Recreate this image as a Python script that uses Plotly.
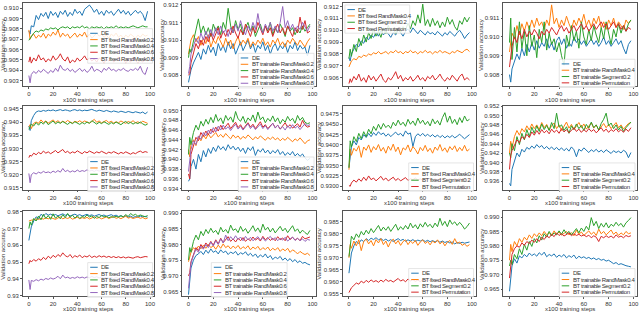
import plotly.graph_objects as go

W, H = 640, 314
STEPS = [0, 1, 2, 4, 6, 8, 10, 12, 14, 16, 18, 20, 22, 24, 26, 28, 30, 32, 34, 36, 38, 40,
         42, 44, 46, 48, 50, 52, 54, 56, 58, 60, 62, 64, 66, 68, 70, 72, 74, 76, 78, 80,
         82, 84, 86, 88, 90, 92, 94, 96, 98]
X_TICKS = [0, 20, 40, 60, 80, 100]

# ---------------- row 1 ----------------
r1c1_de = [0.9078, 0.9075, 0.9083, 0.9082, 0.9093, 0.9089, 0.9095, 0.9092, 0.9096, 0.9090, 0.9097, 0.9093, 0.9096, 0.9091, 0.9097, 0.9094, 0.9098, 0.9092, 0.9096, 0.9093, 0.9099, 0.9095, 0.9097, 0.9093, 0.9099, 0.9101, 0.9103, 0.9100, 0.9096, 0.9099, 0.9094, 0.9097, 0.9093, 0.9098, 0.9095, 0.9097, 0.9093, 0.9096, 0.9099, 0.9095, 0.9098, 0.9094, 0.9097, 0.9093, 0.9096, 0.9098, 0.9095, 0.9097, 0.9094, 0.9088, 0.9097]
r1c1_rm02 = [0.9079, 0.9070, 0.9073, 0.9075, 0.9071, 0.9074, 0.9072, 0.9076, 0.9071, 0.9075, 0.9073, 0.9077, 0.9074, 0.9079, 0.9072, 0.9076, 0.9073, 0.9075, 0.9071, 0.9074, 0.9076, 0.9072, 0.9075, 0.9073, 0.9077, 0.9072, 0.9075, 0.9071, 0.9074, 0.9076, 0.9073, 0.9075, 0.9072, 0.9074, 0.9071, 0.9075, 0.9073, 0.9076, 0.9072, 0.9074, 0.9071, 0.9074, 0.9072, 0.9075, 0.9073, 0.9071, 0.9074, 0.9072, 0.9075, 0.9073, 0.9074]
r1c1_rm04 = [0.9069, 0.9071, 0.9073, 0.9076, 0.9078, 0.9077, 0.9079, 0.9078, 0.9080, 0.9079, 0.9081, 0.9080, 0.9081, 0.9079, 0.9081, 0.9082, 0.9081, 0.9082, 0.9080, 0.9082, 0.9081, 0.9082, 0.9081, 0.9083, 0.9081, 0.9082, 0.9080, 0.9082, 0.9081, 0.9082, 0.9081, 0.9082, 0.9080, 0.9082, 0.9081, 0.9082, 0.9081, 0.9083, 0.9081, 0.9082, 0.9081, 0.9082, 0.9081, 0.9082, 0.9083, 0.9082, 0.9081, 0.9082, 0.9083, 0.9082, 0.9082]
r1c1_rm06 = [0.9048, 0.9053, 0.9047, 0.9052, 0.9049, 0.9055, 0.9050, 0.9052, 0.9048, 0.9051, 0.9049, 0.9054, 0.9050, 0.9052, 0.9056, 0.9051, 0.9049, 0.9053, 0.9047, 0.9050, 0.9048, 0.9052, 0.9049, 0.9051, 0.9054, 0.9050, 0.9052, 0.9049, 0.9051, 0.9048, 0.9052, 0.9050, 0.9047, 0.9051, 0.9049, 0.9052, 0.9048, 0.9050, 0.9053, 0.9049, 0.9051, 0.9047, 0.9050, 0.9048, 0.9052, 0.9049, 0.9047, 0.9050, 0.9048, 0.9051, 0.9049]
r1c1_rm08 = [0.9035, 0.9028, 0.9036, 0.9039, 0.9037, 0.9040, 0.9038, 0.9041, 0.9039, 0.9037, 0.9040, 0.9038, 0.9042, 0.9039, 0.9045, 0.9041, 0.9040, 0.9042, 0.9039, 0.9041, 0.9038, 0.9040, 0.9042, 0.9039, 0.9041, 0.9038, 0.9040, 0.9044, 0.9039, 0.9041, 0.9040, 0.9038, 0.9042, 0.9040, 0.9043, 0.9040, 0.9041, 0.9039, 0.9041, 0.9040, 0.9042, 0.9040, 0.9039, 0.9041, 0.9040, 0.9042, 0.9040, 0.9044, 0.9038, 0.9036, 0.9043]

r1c2_de = [0.9076, 0.9079, 0.9083, 0.9087, 0.9090, 0.9093, 0.9089, 0.9095, 0.9092, 0.9097, 0.9093, 0.9096, 0.9091, 0.9098, 0.9094, 0.9097, 0.9093, 0.9099, 0.9095, 0.9098, 0.9092, 0.9096, 0.9099, 0.9094, 0.9097, 0.9100, 0.9095, 0.9098, 0.9093, 0.9097, 0.9095, 0.9099, 0.9094, 0.9097, 0.9092, 0.9096, 0.9098, 0.9094, 0.9097, 0.9095, 0.9098, 0.9093, 0.9097, 0.9095, 0.9099, 0.9094, 0.9097, 0.9095, 0.9096, 0.9091, 0.9097]
r1c2_rm02 = [0.9092, 0.9096, 0.9100, 0.9103, 0.9099, 0.9102, 0.9097, 0.9101, 0.9098, 0.9103, 0.9096, 0.9100, 0.9098, 0.9102, 0.9099, 0.9096, 0.9101, 0.9097, 0.9100, 0.9095, 0.9099, 0.9102, 0.9097, 0.9100, 0.9098, 0.9101, 0.9096, 0.9099, 0.9097, 0.9100, 0.9098, 0.9101, 0.9097, 0.9099, 0.9096, 0.9100, 0.9098, 0.9101, 0.9097, 0.9099, 0.9096, 0.9100, 0.9098, 0.9101, 0.9099, 0.9097, 0.9100, 0.9098, 0.9096, 0.9099, 0.9101]
r1c2_rm04 = [0.9090, 0.9095, 0.9093, 0.9100, 0.9106, 0.9112, 0.9104, 0.9108, 0.9103, 0.9107, 0.9102, 0.9109, 0.9105, 0.9108, 0.9103, 0.9110, 0.9106, 0.9118, 0.9108, 0.9104, 0.9111, 0.9106, 0.9109, 0.9103, 0.9107, 0.9110, 0.9105, 0.9108, 0.9102, 0.9106, 0.9109, 0.9104, 0.9108, 0.9105, 0.9110, 0.9103, 0.9107, 0.9104, 0.9109, 0.9106, 0.9102, 0.9108, 0.9105, 0.9107, 0.9103, 0.9106, 0.9104, 0.9108, 0.9105, 0.9107, 0.9109]
r1c2_rm06 = [0.9080, 0.9081, 0.9087, 0.9093, 0.9098, 0.9095, 0.9100, 0.9097, 0.9102, 0.9099, 0.9104, 0.9100, 0.9103, 0.9107, 0.9101, 0.9105, 0.9102, 0.9106, 0.9103, 0.9108, 0.9104, 0.9101, 0.9106, 0.9103, 0.9109, 0.9105, 0.9102, 0.9107, 0.9104, 0.9110, 0.9106, 0.9103, 0.9108, 0.9104, 0.9107, 0.9102, 0.9106, 0.9109, 0.9104, 0.9107, 0.9103, 0.9108, 0.9105, 0.9102, 0.9107, 0.9104, 0.9113, 0.9106, 0.9111, 0.9104, 0.9105]
r1c2_rm08 = [0.9081, 0.9085, 0.9092, 0.9097, 0.9101, 0.9098, 0.9104, 0.9100, 0.9105, 0.9101, 0.9106, 0.9102, 0.9107, 0.9103, 0.9108, 0.9104, 0.9106, 0.9102, 0.9107, 0.9104, 0.9109, 0.9105, 0.9111, 0.9106, 0.9103, 0.9108, 0.9105, 0.9110, 0.9106, 0.9115, 0.9107, 0.9104, 0.9109, 0.9106, 0.9110, 0.9105, 0.9108, 0.9104, 0.9110, 0.9119, 0.9107, 0.9111, 0.9106, 0.9109, 0.9105, 0.9108, 0.9106, 0.9110, 0.9107, 0.9105, 0.9108]

r1c3_de = [0.9077, 0.9074, 0.9080, 0.9084, 0.9088, 0.9086, 0.9091, 0.9089, 0.9094, 0.9092, 0.9096, 0.9094, 0.9098, 0.9095, 0.9100, 0.9096, 0.9099, 0.9097, 0.9094, 0.9098, 0.9096, 0.9100, 0.9098, 0.9095, 0.9099, 0.9101, 0.9098, 0.9102, 0.9099, 0.9097, 0.9100, 0.9098, 0.9096, 0.9099, 0.9097, 0.9098, 0.9096, 0.9099, 0.9097, 0.9095, 0.9098, 0.9096, 0.9099, 0.9097, 0.9095, 0.9098, 0.9100, 0.9097, 0.9093, 0.9096, 0.9098]
r1c3_rm04 = [0.9069, 0.9072, 0.9074, 0.9076, 0.9075, 0.9078, 0.9077, 0.9079, 0.9078, 0.9080, 0.9079, 0.9081, 0.9080, 0.9082, 0.9080, 0.9081, 0.9082, 0.9080, 0.9082, 0.9081, 0.9083, 0.9081, 0.9082, 0.9080, 0.9082, 0.9081, 0.9083, 0.9081, 0.9082, 0.9080, 0.9082, 0.9081, 0.9083, 0.9081, 0.9082, 0.9080, 0.9082, 0.9081, 0.9083, 0.9081, 0.9082, 0.9081, 0.9080, 0.9082, 0.9081, 0.9083, 0.9082, 0.9081, 0.9083, 0.9084, 0.9082]
r1c3_seg02 = [0.9076, 0.9084, 0.9078, 0.9088, 0.9082, 0.9093, 0.9087, 0.9096, 0.9090, 0.9098, 0.9093, 0.9101, 0.9095, 0.9099, 0.9094, 0.9102, 0.9097, 0.9104, 0.9099, 0.9102, 0.9097, 0.9101, 0.9098, 0.9103, 0.9100, 0.9106, 0.9101, 0.9108, 0.9104, 0.9113, 0.9106, 0.9122, 0.9104, 0.9109, 0.9103, 0.9110, 0.9104, 0.9108, 0.9102, 0.9107, 0.9103, 0.9111, 0.9105, 0.9109, 0.9103, 0.9100, 0.9108, 0.9105, 0.9111, 0.9107, 0.9111]
r1c3_perm = [0.9055, 0.9059, 0.9056, 0.9061, 0.9058, 0.9063, 0.9057, 0.9060, 0.9056, 0.9062, 0.9058, 0.9061, 0.9057, 0.9060, 0.9063, 0.9058, 0.9056, 0.9060, 0.9058, 0.9061, 0.9065, 0.9059, 0.9062, 0.9057, 0.9060, 0.9058, 0.9061, 0.9057, 0.9059, 0.9062, 0.9058, 0.9060, 0.9057, 0.9061, 0.9059, 0.9062, 0.9058, 0.9060, 0.9063, 0.9059, 0.9057, 0.9060, 0.9058, 0.9062, 0.9059, 0.9057, 0.9061, 0.9063, 0.9058, 0.9060, 0.9058]

r1c4_de = [0.9080, 0.9076, 0.9083, 0.9087, 0.9091, 0.9088, 0.9094, 0.9090, 0.9096, 0.9092, 0.9097, 0.9093, 0.9098, 0.9094, 0.9097, 0.9095, 0.9099, 0.9094, 0.9097, 0.9093, 0.9098, 0.9100, 0.9096, 0.9099, 0.9094, 0.9097, 0.9095, 0.9100, 0.9097, 0.9099, 0.9096, 0.9098, 0.9095, 0.9097, 0.9099, 0.9096, 0.9098, 0.9095, 0.9097, 0.9100, 0.9096, 0.9098, 0.9095, 0.9097, 0.9099, 0.9096, 0.9098, 0.9094, 0.9091, 0.9096, 0.9098]
r1c4_rm04 = [0.9092, 0.9097, 0.9102, 0.9099, 0.9106, 0.9101, 0.9107, 0.9103, 0.9108, 0.9104, 0.9109, 0.9105, 0.9110, 0.9106, 0.9108, 0.9104, 0.9109, 0.9106, 0.9117, 0.9107, 0.9110, 0.9105, 0.9109, 0.9106, 0.9111, 0.9107, 0.9104, 0.9109, 0.9106, 0.9110, 0.9107, 0.9112, 0.9106, 0.9109, 0.9105, 0.9110, 0.9107, 0.9111, 0.9105, 0.9108, 0.9104, 0.9109, 0.9106, 0.9110, 0.9105, 0.9108, 0.9106, 0.9104, 0.9109, 0.9107, 0.9109]
r1c4_seg02 = [0.9097, 0.9110, 0.9088, 0.9105, 0.9092, 0.9108, 0.9094, 0.9103, 0.9090, 0.9106, 0.9095, 0.9101, 0.9089, 0.9104, 0.9097, 0.9108, 0.9093, 0.9102, 0.9096, 0.9099, 0.9092, 0.9097, 0.9090, 0.9085, 0.9101, 0.9095, 0.9106, 0.9098, 0.9103, 0.9094, 0.9108, 0.9100, 0.9096, 0.9104, 0.9098, 0.9106, 0.9101, 0.9097, 0.9105, 0.9099, 0.9108, 0.9102, 0.9096, 0.9104, 0.9100, 0.9107, 0.9102, 0.9106, 0.9103, 0.9107, 0.9109]
r1c4_perm = [0.9084, 0.9090, 0.9095, 0.9100, 0.9097, 0.9103, 0.9099, 0.9104, 0.9100, 0.9103, 0.9101, 0.9104, 0.9102, 0.9099, 0.9103, 0.9101, 0.9104, 0.9102, 0.9105, 0.9103, 0.9101, 0.9104, 0.9106, 0.9103, 0.9105, 0.9102, 0.9104, 0.9106, 0.9103, 0.9105, 0.9107, 0.9104, 0.9106, 0.9103, 0.9105, 0.9107, 0.9104, 0.9106, 0.9108, 0.9105, 0.9107, 0.9104, 0.9106, 0.9108, 0.9105, 0.9107, 0.9104, 0.9106, 0.9103, 0.9105, 0.9104]

# ---------------- row 2 ----------------
r2c1_de = [0.9385, 0.9368, 0.9405, 0.9425, 0.9438, 0.9442, 0.9440, 0.9444, 0.9441, 0.9445, 0.9443, 0.9446, 0.9442, 0.9445, 0.9447, 0.9443, 0.9446, 0.9444, 0.9441, 0.9445, 0.9447, 0.9443, 0.9446, 0.9442, 0.9445, 0.9443, 0.9446, 0.9448, 0.9444, 0.9441, 0.9445, 0.9443, 0.9440, 0.9444, 0.9442, 0.9438, 0.9442, 0.9440, 0.9437, 0.9441, 0.9439, 0.9436, 0.9440, 0.9438, 0.9435, 0.9439, 0.9437, 0.9434, 0.9438, 0.9431, 0.9438]
r2c1_rm02 = [0.9382, 0.9390, 0.9375, 0.9395, 0.9400, 0.9395, 0.9408, 0.9398, 0.9404, 0.9396, 0.9402, 0.9408, 0.9399, 0.9405, 0.9397, 0.9403, 0.9398, 0.9406, 0.9400, 0.9396, 0.9403, 0.9399, 0.9405, 0.9398, 0.9404, 0.9400, 0.9396, 0.9402, 0.9410, 0.9399, 0.9404, 0.9397, 0.9401, 0.9406, 0.9398, 0.9403, 0.9396, 0.9401, 0.9397, 0.9404, 0.9399, 0.9395, 0.9402, 0.9398, 0.9405, 0.9397, 0.9401, 0.9396, 0.9403, 0.9398, 0.9395]
r2c1_rm04 = [0.9372, 0.9380, 0.9392, 0.9385, 0.9398, 0.9388, 0.9400, 0.9392, 0.9403, 0.9390, 0.9398, 0.9404, 0.9393, 0.9400, 0.9395, 0.9402, 0.9396, 0.9391, 0.9399, 0.9394, 0.9401, 0.9396, 0.9391, 0.9398, 0.9393, 0.9400, 0.9395, 0.9405, 0.9397, 0.9392, 0.9399, 0.9394, 0.9401, 0.9396, 0.9391, 0.9398, 0.9393, 0.9400, 0.9395, 0.9390, 0.9397, 0.9402, 0.9394, 0.9399, 0.9392, 0.9398, 0.9394, 0.9400, 0.9393, 0.9388, 0.9392]
r2c1_rm06 = [0.9265, 0.9275, 0.9270, 0.9282, 0.9276, 0.9285, 0.9279, 0.9290, 0.9282, 0.9287, 0.9280, 0.9286, 0.9292, 0.9283, 0.9288, 0.9296, 0.9284, 0.9289, 0.9281, 0.9287, 0.9283, 0.9291, 0.9285, 0.9280, 0.9288, 0.9283, 0.9290, 0.9285, 0.9281, 0.9287, 0.9283, 0.9289, 0.9284, 0.9280, 0.9286, 0.9282, 0.9288, 0.9283, 0.9279, 0.9285, 0.9281, 0.9287, 0.9282, 0.9278, 0.9284, 0.9280, 0.9286, 0.9290, 0.9284, 0.9288, 0.9285]
r2c1_rm08 = [0.9205, 0.9170, 0.9200, 0.9208, 0.9203, 0.9210, 0.9206, 0.9213, 0.9208, 0.9211, 0.9207, 0.9214, 0.9209, 0.9216, 0.9210, 0.9224, 0.9212, 0.9217, 0.9210, 0.9215, 0.9211, 0.9218, 0.9212, 0.9216, 0.9213, 0.9219, 0.9214, 0.9217, 0.9213, 0.9218, 0.9214, 0.9217, 0.9213, 0.9216, 0.9212, 0.9218, 0.9214, 0.9217, 0.9213, 0.9216, 0.9212, 0.9217, 0.9214, 0.9218, 0.9213, 0.9216, 0.9212, 0.9217, 0.9214, 0.9216, 0.9213]

r2c2_de = [0.9355, 0.9360, 0.9385, 0.9400, 0.9380, 0.9410, 0.9395, 0.9418, 0.9405, 0.9422, 0.9412, 0.9425, 0.9416, 0.9428, 0.9420, 0.9426, 0.9418, 0.9430, 0.9421, 0.9427, 0.9419, 0.9425, 0.9416, 0.9423, 0.9412, 0.9424, 0.9418, 0.9426, 0.9408, 0.9420, 0.9415, 0.9422, 0.9413, 0.9419, 0.9411, 0.9418, 0.9413, 0.9420, 0.9410, 0.9416, 0.9408, 0.9414, 0.9409, 0.9416, 0.9407, 0.9412, 0.9406, 0.9411, 0.9403, 0.9398, 0.9402]
r2c2_rm02 = [0.9420, 0.9405, 0.9432, 0.9440, 0.9428, 0.9446, 0.9438, 0.9450, 0.9442, 0.9452, 0.9444, 0.9449, 0.9455, 0.9446, 0.9451, 0.9445, 0.9453, 0.9447, 0.9442, 0.9450, 0.9444, 0.9448, 0.9441, 0.9447, 0.9443, 0.9450, 0.9444, 0.9440, 0.9446, 0.9442, 0.9448, 0.9443, 0.9439, 0.9445, 0.9441, 0.9446, 0.9440, 0.9444, 0.9438, 0.9443, 0.9439, 0.9445, 0.9440, 0.9436, 0.9442, 0.9438, 0.9444, 0.9437, 0.9432, 0.9438, 0.9440]
r2c2_rm04 = [0.9410, 0.9445, 0.9430, 0.9455, 0.9470, 0.9460, 0.9478, 0.9468, 0.9482, 0.9472, 0.9486, 0.9475, 0.9492, 0.9478, 0.9485, 0.9473, 0.9490, 0.9480, 0.9487, 0.9476, 0.9498, 0.9483, 0.9478, 0.9488, 0.9474, 0.9485, 0.9479, 0.9491, 0.9476, 0.9497, 0.9481, 0.9487, 0.9475, 0.9484, 0.9478, 0.9489, 0.9477, 0.9485, 0.9473, 0.9482, 0.9476, 0.9488, 0.9479, 0.9484, 0.9474, 0.9490, 0.9480, 0.9486, 0.9476, 0.9473, 0.9475]
r2c2_rm06 = [0.9370, 0.9360, 0.9410, 0.9430, 0.9445, 0.9438, 0.9455, 0.9447, 0.9458, 0.9450, 0.9462, 0.9455, 0.9466, 0.9458, 0.9470, 0.9461, 0.9467, 0.9474, 0.9463, 0.9469, 0.9476, 0.9465, 0.9471, 0.9462, 0.9468, 0.9475, 0.9466, 0.9472, 0.9463, 0.9469, 0.9477, 0.9466, 0.9471, 0.9463, 0.9469, 0.9474, 0.9465, 0.9470, 0.9462, 0.9468, 0.9475, 0.9466, 0.9471, 0.9464, 0.9469, 0.9473, 0.9466, 0.9480, 0.9470, 0.9466, 0.9468]
r2c2_rm08 = [0.9375, 0.9395, 0.9420, 0.9438, 0.9430, 0.9448, 0.9441, 0.9455, 0.9448, 0.9460, 0.9452, 0.9465, 0.9456, 0.9468, 0.9460, 0.9470, 0.9462, 0.9467, 0.9459, 0.9466, 0.9472, 0.9462, 0.9468, 0.9460, 0.9466, 0.9473, 0.9463, 0.9469, 0.9461, 0.9467, 0.9472, 0.9463, 0.9469, 0.9461, 0.9468, 0.9474, 0.9464, 0.9470, 0.9462, 0.9467, 0.9460, 0.9469, 0.9463, 0.9471, 0.9464, 0.9468, 0.9461, 0.9467, 0.9473, 0.9469, 0.9471]

r2c3_de = [0.9345, 0.9365, 0.9395, 0.9410, 0.9400, 0.9418, 0.9412, 0.9425, 0.9418, 0.9428, 0.9420, 0.9430, 0.9423, 0.9432, 0.9425, 0.9429, 0.9421, 0.9427, 0.9420, 0.9426, 0.9431, 0.9424, 0.9428, 0.9421, 0.9434, 0.9426, 0.9429, 0.9396, 0.9420, 0.9427, 0.9422, 0.9428, 0.9421, 0.9426, 0.9420, 0.9425, 0.9419, 0.9424, 0.9418, 0.9423, 0.9417, 0.9422, 0.9418, 0.9423, 0.9417, 0.9421, 0.9426, 0.9420, 0.9415, 0.9420, 0.9425]
r2c3_rm04 = [0.9340, 0.9390, 0.9375, 0.9392, 0.9385, 0.9398, 0.9370, 0.9395, 0.9387, 0.9400, 0.9382, 0.9396, 0.9388, 0.9401, 0.9385, 0.9394, 0.9380, 0.9397, 0.9387, 0.9402, 0.9384, 0.9395, 0.9376, 0.9393, 0.9388, 0.9400, 0.9383, 0.9396, 0.9389, 0.9378, 0.9394, 0.9386, 0.9399, 0.9384, 0.9392, 0.9380, 0.9395, 0.9387, 0.9401, 0.9385, 0.9393, 0.9382, 0.9396, 0.9388, 0.9398, 0.9384, 0.9394, 0.9386, 0.9399, 0.9385, 0.9390]
r2c3_seg02 = [0.9345, 0.9410, 0.9395, 0.9420, 0.9408, 0.9428, 0.9415, 0.9432, 0.9420, 0.9438, 0.9427, 0.9445, 0.9435, 0.9450, 0.9438, 0.9452, 0.9442, 0.9448, 0.9440, 0.9455, 0.9446, 0.9460, 0.9448, 0.9455, 0.9445, 0.9462, 0.9450, 0.9458, 0.9447, 0.9465, 0.9452, 0.9460, 0.9449, 0.9457, 0.9446, 0.9463, 0.9451, 0.9459, 0.9448, 0.9466, 0.9478, 0.9455, 0.9470, 0.9452, 0.9462, 0.9449, 0.9466, 0.9454, 0.9470, 0.9458, 0.9462]
r2c3_perm = [0.9302, 0.9300, 0.9308, 0.9315, 0.9310, 0.9318, 0.9312, 0.9322, 0.9314, 0.9325, 0.9316, 0.9320, 0.9313, 0.9319, 0.9324, 0.9315, 0.9320, 0.9313, 0.9318, 0.9322, 0.9314, 0.9319, 0.9313, 0.9317, 0.9321, 0.9314, 0.9318, 0.9316, 0.9320, 0.9315, 0.9318, 0.9314, 0.9319, 0.9316, 0.9320, 0.9315, 0.9318, 0.9314, 0.9319, 0.9316, 0.9320, 0.9315, 0.9318, 0.9314, 0.9319, 0.9316, 0.9320, 0.9315, 0.9317, 0.9314, 0.9318]

r2c4_de = [0.9355, 0.9350, 0.9385, 0.9405, 0.9420, 0.9412, 0.9428, 0.9422, 0.9432, 0.9428, 0.9435, 0.9430, 0.9438, 0.9432, 0.9436, 0.9429, 0.9434, 0.9428, 0.9433, 0.9427, 0.9432, 0.9426, 0.9431, 0.9425, 0.9430, 0.9424, 0.9433, 0.9427, 0.9412, 0.9428, 0.9424, 0.9431, 0.9426, 0.9421, 0.9427, 0.9423, 0.9428, 0.9422, 0.9426, 0.9421, 0.9427, 0.9423, 0.9419, 0.9425, 0.9421, 0.9424, 0.9420, 0.9426, 0.9422, 0.9410, 0.9421]
r2c4_rm04 = [0.9420, 0.9445, 0.9430, 0.9455, 0.9468, 0.9458, 0.9472, 0.9465, 0.9478, 0.9469, 0.9482, 0.9472, 0.9480, 0.9470, 0.9485, 0.9474, 0.9481, 0.9469, 0.9478, 0.9484, 0.9472, 0.9480, 0.9468, 0.9477, 0.9486, 0.9473, 0.9481, 0.9470, 0.9479, 0.9485, 0.9474, 0.9482, 0.9471, 0.9478, 0.9484, 0.9473, 0.9480, 0.9469, 0.9477, 0.9483, 0.9474, 0.9481, 0.9472, 0.9478, 0.9485, 0.9474, 0.9480, 0.9471, 0.9478, 0.9483, 0.9485]
r2c4_seg02 = [0.9420, 0.9410, 0.9440, 0.9425, 0.9455, 0.9438, 0.9462, 0.9448, 0.9470, 0.9455, 0.9475, 0.9462, 0.9478, 0.9466, 0.9482, 0.9470, 0.9479, 0.9468, 0.9485, 0.9472, 0.9505, 0.9475, 0.9480, 0.9468, 0.9476, 0.9462, 0.9478, 0.9470, 0.9482, 0.9472, 0.9479, 0.9468, 0.9481, 0.9473, 0.9486, 0.9474, 0.9480, 0.9469, 0.9483, 0.9492, 0.9505, 0.9478, 0.9484, 0.9472, 0.9480, 0.9469, 0.9477, 0.9466, 0.9474, 0.9480, 0.9486]
r2c4_perm = [0.9385, 0.9415, 0.9425, 0.9438, 0.9448, 0.9442, 0.9455, 0.9450, 0.9460, 0.9453, 0.9465, 0.9458, 0.9468, 0.9460, 0.9470, 0.9463, 0.9468, 0.9461, 0.9471, 0.9464, 0.9469, 0.9462, 0.9472, 0.9465, 0.9470, 0.9463, 0.9469, 0.9474, 0.9466, 0.9471, 0.9464, 0.9470, 0.9465, 0.9472, 0.9466, 0.9470, 0.9463, 0.9469, 0.9474, 0.9466, 0.9471, 0.9464, 0.9470, 0.9466, 0.9472, 0.9465, 0.9470, 0.9464, 0.9471, 0.9466, 0.9474]

# ---------------- row 3 ----------------
r3c1_de = [0.9629, 0.9660, 0.9710, 0.9745, 0.9770, 0.9760, 0.9785, 0.9775, 0.9790, 0.9780, 0.9786, 0.9778, 0.9784, 0.9776, 0.9782, 0.9788, 0.9779, 0.9784, 0.9775, 0.9781, 0.9786, 0.9778, 0.9783, 0.9775, 0.9780, 0.9785, 0.9777, 0.9782, 0.9774, 0.9779, 0.9784, 0.9776, 0.9781, 0.9773, 0.9778, 0.9783, 0.9775, 0.9780, 0.9772, 0.9777, 0.9770, 0.9776, 0.9768, 0.9774, 0.9766, 0.9772, 0.9768, 0.9775, 0.9770, 0.9773, 0.9768]
r3c1_rm02 = [0.9745, 0.9748, 0.9750, 0.9752, 0.9758, 0.9754, 0.9762, 0.9756, 0.9764, 0.9758, 0.9766, 0.9760, 0.9755, 0.9763, 0.9770, 0.9758, 0.9765, 0.9760, 0.9767, 0.9756, 0.9763, 0.9768, 0.9759, 0.9765, 0.9760, 0.9767, 0.9757, 0.9764, 0.9770, 0.9761, 0.9766, 0.9758, 0.9764, 0.9769, 0.9760, 0.9765, 0.9772, 0.9761, 0.9766, 0.9759, 0.9768, 0.9774, 0.9762, 0.9767, 0.9760, 0.9765, 0.9769, 0.9761, 0.9766, 0.9758, 0.9762]
r3c1_rm04 = [0.9700, 0.9740, 0.9720, 0.9760, 0.9745, 0.9775, 0.9752, 0.9785, 0.9760, 0.9778, 0.9755, 0.9788, 0.9762, 0.9775, 0.9758, 0.9783, 0.9765, 0.9790, 0.9768, 0.9780, 0.9762, 0.9776, 0.9760, 0.9772, 0.9767, 0.9781, 0.9769, 0.9775, 0.9761, 0.9772, 0.9766, 0.9778, 0.9769, 0.9774, 0.9764, 0.9771, 0.9767, 0.9773, 0.9768, 0.9776, 0.9770, 0.9783, 0.9772, 0.9790, 0.9778, 0.9785, 0.9774, 0.9781, 0.9776, 0.9770, 0.9778]
r3c1_rm06 = [0.9490, 0.9510, 0.9500, 0.9515, 0.9505, 0.9520, 0.9510, 0.9528, 0.9515, 0.9535, 0.9522, 0.9540, 0.9528, 0.9545, 0.9533, 0.9555, 0.9538, 0.9530, 0.9545, 0.9525, 0.9538, 0.9530, 0.9542, 0.9526, 0.9536, 0.9530, 0.9540, 0.9527, 0.9535, 0.9528, 0.9538, 0.9530, 0.9536, 0.9528, 0.9534, 0.9527, 0.9533, 0.9526, 0.9532, 0.9525, 0.9531, 0.9524, 0.9530, 0.9527, 0.9523, 0.9529, 0.9532, 0.9526, 0.9530, 0.9533, 0.9531]
r3c1_rm08 = [0.9393, 0.9336, 0.9390, 0.9385, 0.9395, 0.9388, 0.9398, 0.9392, 0.9402, 0.9396, 0.9405, 0.9398, 0.9404, 0.9415, 0.9400, 0.9422, 0.9405, 0.9410, 0.9402, 0.9408, 0.9403, 0.9412, 0.9405, 0.9410, 0.9404, 0.9411, 0.9406, 0.9414, 0.9407, 0.9412, 0.9405, 0.9410, 0.9404, 0.9409, 0.9403, 0.9408, 0.9402, 0.9407, 0.9403, 0.9409, 0.9404, 0.9408, 0.9402, 0.9407, 0.9403, 0.9409, 0.9404, 0.9408, 0.9402, 0.9406, 0.9403]

r3c2_de = [0.9640, 0.9680, 0.9725, 0.9750, 0.9765, 0.9770, 0.9778, 0.9768, 0.9782, 0.9772, 0.9786, 0.9775, 0.9780, 0.9770, 0.9783, 0.9774, 0.9779, 0.9768, 0.9776, 0.9771, 0.9778, 0.9766, 0.9774, 0.9769, 0.9777, 0.9765, 0.9772, 0.9762, 0.9770, 0.9758, 0.9767, 0.9760, 0.9770, 0.9757, 0.9765, 0.9752, 0.9760, 0.9755, 0.9762, 0.9750, 0.9757, 0.9748, 0.9755, 0.9745, 0.9752, 0.9742, 0.9748, 0.9740, 0.9743, 0.9738, 0.9735]
r3c2_rm02 = [0.9745, 0.9760, 0.9775, 0.9790, 0.9782, 0.9795, 0.9786, 0.9798, 0.9788, 0.9800, 0.9790, 0.9796, 0.9785, 0.9798, 0.9788, 0.9802, 0.9790, 0.9796, 0.9786, 0.9795, 0.9788, 0.9797, 0.9785, 0.9793, 0.9787, 0.9796, 0.9783, 0.9792, 0.9786, 0.9794, 0.9782, 0.9790, 0.9784, 0.9792, 0.9780, 0.9788, 0.9782, 0.9790, 0.9778, 0.9786, 0.9780, 0.9788, 0.9775, 0.9783, 0.9778, 0.9770, 0.9778, 0.9772, 0.9768, 0.9772, 0.9765]
r3c2_rm04 = [0.9750, 0.9790, 0.9775, 0.9810, 0.9830, 0.9815, 0.9842, 0.9828, 0.9848, 0.9835, 0.9852, 0.9838, 0.9845, 0.9832, 0.9855, 0.9840, 0.9848, 0.9836, 0.9862, 0.9845, 0.9850, 0.9838, 0.9858, 0.9842, 0.9851, 0.9836, 0.9847, 0.9860, 0.9842, 0.9853, 0.9838, 0.9865, 0.9846, 0.9855, 0.9840, 0.9852, 0.9837, 0.9848, 0.9858, 0.9843, 0.9852, 0.9838, 0.9849, 0.9860, 0.9842, 0.9850, 0.9836, 0.9846, 0.9838, 0.9832, 0.9845]
r3c2_rm06 = [0.9700, 0.9710, 0.9745, 0.9770, 0.9790, 0.9780, 0.9800, 0.9788, 0.9805, 0.9795, 0.9810, 0.9798, 0.9815, 0.9802, 0.9820, 0.9806, 0.9815, 0.9825, 0.9810, 0.9818, 0.9808, 0.9820, 0.9812, 0.9822, 0.9810, 0.9818, 0.9812, 0.9824, 0.9814, 0.9820, 0.9811, 0.9826, 0.9815, 0.9822, 0.9813, 0.9820, 0.9812, 0.9825, 0.9815, 0.9821, 0.9812, 0.9828, 0.9816, 0.9823, 0.9814, 0.9820, 0.9812, 0.9826, 0.9818, 0.9822, 0.9824]
r3c2_rm08 = [0.9660, 0.9700, 0.9740, 0.9765, 0.9785, 0.9775, 0.9795, 0.9785, 0.9800, 0.9790, 0.9808, 0.9795, 0.9812, 0.9800, 0.9818, 0.9805, 0.9830, 0.9812, 0.9825, 0.9815, 0.9828, 0.9816, 0.9824, 0.9812, 0.9826, 0.9815, 0.9823, 0.9812, 0.9820, 0.9825, 0.9814, 0.9822, 0.9811, 0.9819, 0.9826, 0.9815, 0.9822, 0.9812, 0.9820, 0.9814, 0.9823, 0.9811, 0.9818, 0.9824, 0.9813, 0.9820, 0.9812, 0.9818, 0.9810, 0.9816, 0.9814]

r3c3_de = [0.9636, 0.9670, 0.9720, 0.9750, 0.9768, 0.9760, 0.9775, 0.9768, 0.9780, 0.9772, 0.9782, 0.9776, 0.9784, 0.9775, 0.9780, 0.9772, 0.9778, 0.9770, 0.9776, 0.9768, 0.9775, 0.9780, 0.9772, 0.9777, 0.9769, 0.9775, 0.9770, 0.9776, 0.9768, 0.9774, 0.9770, 0.9775, 0.9768, 0.9773, 0.9767, 0.9772, 0.9766, 0.9771, 0.9765, 0.9770, 0.9764, 0.9768, 0.9762, 0.9766, 0.9758, 0.9764, 0.9760, 0.9765, 0.9761, 0.9764, 0.9766]
r3c3_rm04 = [0.9700, 0.9755, 0.9740, 0.9770, 0.9750, 0.9775, 0.9730, 0.9768, 0.9778, 0.9758, 0.9772, 0.9750, 0.9776, 0.9762, 0.9780, 0.9755, 0.9770, 0.9745, 0.9768, 0.9778, 0.9758, 0.9772, 0.9752, 0.9768, 0.9775, 0.9755, 0.9770, 0.9760, 0.9773, 0.9752, 0.9766, 0.9775, 0.9760, 0.9768, 0.9754, 0.9770, 0.9762, 0.9775, 0.9758, 0.9768, 0.9750, 0.9765, 0.9772, 0.9756, 0.9780, 0.9760, 0.9766, 0.9752, 0.9758, 0.9748, 0.9755]
r3c3_seg02 = [0.9705, 0.9760, 0.9790, 0.9775, 0.9800, 0.9785, 0.9810, 0.9795, 0.9815, 0.9800, 0.9822, 0.9805, 0.9818, 0.9835, 0.9812, 0.9828, 0.9815, 0.9830, 0.9810, 0.9825, 0.9840, 0.9815, 0.9830, 0.9818, 0.9835, 0.9820, 0.9845, 0.9825, 0.9838, 0.9820, 0.9842, 0.9828, 0.9848, 0.9830, 0.9840, 0.9825, 0.9845, 0.9830, 0.9865, 0.9835, 0.9852, 0.9830, 0.9858, 0.9840, 0.9850, 0.9835, 0.9848, 0.9836, 0.9820, 0.9830, 0.9845]
r3c3_perm = [0.9555, 0.9565, 0.9575, 0.9585, 0.9595, 0.9590, 0.9603, 0.9595, 0.9606, 0.9598, 0.9608, 0.9600, 0.9605, 0.9598, 0.9607, 0.9600, 0.9610, 0.9602, 0.9606, 0.9599, 0.9608, 0.9614, 0.9603, 0.9609, 0.9600, 0.9612, 0.9604, 0.9609, 0.9602, 0.9607, 0.9601, 0.9608, 0.9603, 0.9610, 0.9604, 0.9607, 0.9601, 0.9608, 0.9603, 0.9609, 0.9604, 0.9607, 0.9602, 0.9608, 0.9603, 0.9606, 0.9601, 0.9607, 0.9603, 0.9605, 0.9604]

r3c4_de = [0.9642, 0.9690, 0.9730, 0.9755, 0.9740, 0.9765, 0.9758, 0.9770, 0.9762, 0.9775, 0.9766, 0.9772, 0.9764, 0.9776, 0.9768, 0.9778, 0.9762, 0.9770, 0.9765, 0.9772, 0.9760, 0.9768, 0.9762, 0.9770, 0.9758, 0.9766, 0.9760, 0.9768, 0.9755, 0.9764, 0.9758, 0.9762, 0.9756, 0.9760, 0.9754, 0.9758, 0.9752, 0.9756, 0.9750, 0.9753, 0.9747, 0.9750, 0.9744, 0.9738, 0.9742, 0.9735, 0.9738, 0.9733, 0.9731, 0.9729, 0.9727]
r3c4_rm04 = [0.9750, 0.9805, 0.9780, 0.9815, 0.9800, 0.9825, 0.9812, 0.9830, 0.9820, 0.9838, 0.9826, 0.9842, 0.9832, 0.9845, 0.9835, 0.9850, 0.9838, 0.9846, 0.9836, 0.9852, 0.9840, 0.9848, 0.9837, 0.9845, 0.9850, 0.9838, 0.9846, 0.9835, 0.9855, 0.9840, 0.9848, 0.9836, 0.9845, 0.9852, 0.9840, 0.9848, 0.9836, 0.9858, 0.9842, 0.9850, 0.9838, 0.9847, 0.9855, 0.9840, 0.9848, 0.9836, 0.9845, 0.9838, 0.9850, 0.9842, 0.9845]
r3c4_seg02 = [0.9730, 0.9750, 0.9735, 0.9770, 0.9755, 0.9790, 0.9770, 0.9805, 0.9785, 0.9815, 0.9798, 0.9825, 0.9810, 0.9835, 0.9820, 0.9842, 0.9830, 0.9850, 0.9835, 0.9845, 0.9838, 0.9852, 0.9840, 0.9856, 0.9842, 0.9850, 0.9838, 0.9848, 0.9860, 0.9845, 0.9862, 0.9850, 0.9868, 0.9855, 0.9898, 0.9870, 0.9885, 0.9860, 0.9878, 0.9865, 0.9880, 0.9862, 0.9875, 0.9868, 0.9882, 0.9870, 0.9878, 0.9865, 0.9880, 0.9888, 0.9898]
r3c4_perm = [0.9688, 0.9740, 0.9770, 0.9790, 0.9800, 0.9795, 0.9810, 0.9802, 0.9815, 0.9808, 0.9820, 0.9812, 0.9825, 0.9815, 0.9830, 0.9822, 0.9835, 0.9828, 0.9840, 0.9832, 0.9845, 0.9836, 0.9842, 0.9834, 0.9840, 0.9845, 0.9835, 0.9842, 0.9836, 0.9840, 0.9834, 0.9838, 0.9832, 0.9837, 0.9828, 0.9835, 0.9830, 0.9815, 0.9833, 0.9828, 0.9835, 0.9829, 0.9834, 0.9827, 0.9838, 0.9830, 0.9834, 0.9828, 0.9836, 0.9832, 0.9835]

# series names
FIXED_RM = ["DE", "BT fixed RandMask0.2", "BT fixed RandMask0.4", "BT fixed RandMask0.6", "BT fixed RandMask0.8"]
TRAIN_RM = ["DE", "BT trainable RandMask0.2", "BT trainable RandMask0.4", "BT trainable RandMask0.6", "BT trainable RandMask0.8"]
FIXED_MIX = ["DE", "BT fixed RandMask0.4", "BT fixed Segment0.2", "BT fixed Permutation"]
TRAIN_MIX = ["DE", "BT trainable RandMask0.4", "BT trainable Segment0.2", "BT trainable Permutation"]

COLORS = ["#1f77b4", "#ff7f0e", "#2ca02c", "#d62728", "#9467bd"]

# layout (pixel geometry)
COLS = [(23, 154), (183, 317), (344, 477), (505, 639)]
ROWS = [(1, 85), (105, 190), (212, 298)]
YTITLE_X = [3, 163, 320, 483]
XTITLE_Y = [99, 204, 310.5]
LEG_W_FIXED = 65
LEG_W_TRAIN = 76

PANELS = [
    dict(names=FIXED_RM, data=[r1c1_de, r1c1_rm02, r1c1_rm04, r1c1_rm06, r1c1_rm08],
         yr=[0.9025, 0.9105], t0=0.903, dt=0.001, fmt=".3f", leg=("r", 153, 27, LEG_W_FIXED)),
    dict(names=TRAIN_RM, data=[r1c2_de, r1c2_rm02, r1c2_rm04, r1c2_rm06, r1c2_rm08],
         yr=[0.9074, 0.9121], t0=0.908, dt=0.001, fmt=".3f", leg=("r", 315, 52, LEG_W_TRAIN)),
    dict(names=FIXED_MIX, data=[r1c3_de, r1c3_rm04, r1c3_seg02, r1c3_perm],
         yr=[0.9053, 0.9123], t0=0.906, dt=0.001, fmt=".3f", leg=("l", 346, 3, LEG_W_FIXED)),
    dict(names=TRAIN_MIX, data=[r1c4_de, r1c4_rm04, r1c4_seg02, r1c4_perm],
         yr=[0.9074, 0.9118], t0=0.908, dt=0.001, fmt=".3f", leg=("r", 637, 58, LEG_W_TRAIN)),
    dict(names=FIXED_RM, data=[r2c1_de, r2c1_rm02, r2c1_rm04, r2c1_rm06, r2c1_rm08],
         yr=[0.9144, 0.9462], t0=0.915, dt=0.005, fmt=".3f", leg=("r", 153, 157, LEG_W_FIXED)),
    dict(names=TRAIN_RM, data=[r2c2_de, r2c2_rm02, r2c2_rm04, r2c2_rm06, r2c2_rm08],
         yr=[0.9338, 0.9510], t0=0.934, dt=0.002, fmt=".3f", leg=("r", 315, 157, LEG_W_TRAIN)),
    dict(names=FIXED_MIX, data=[r2c3_de, r2c3_rm04, r2c3_seg02, r2c3_perm],
         yr=[0.9292, 0.9495], t0=0.930, dt=0.0025, fmt=".4f", leg=("r", 475, 163, LEG_W_FIXED)),
    dict(names=TRAIN_MIX, data=[r2c4_de, r2c4_rm04, r2c4_seg02, r2c4_perm],
         yr=[0.9342, 0.9521], t0=0.934, dt=0.002, fmt=".3f", leg=("r", 637, 163, LEG_W_TRAIN)),
    dict(names=FIXED_RM, data=[r3c1_de, r3c1_rm02, r3c1_rm04, r3c1_rm06, r3c1_rm08],
         yr=[0.9296, 0.9803], t0=0.93, dt=0.01, fmt=".2f", leg=("r", 153, 264, LEG_W_FIXED)),
    dict(names=TRAIN_RM, data=[r3c2_de, r3c2_rm02, r3c2_rm04, r3c2_rm06, r3c2_rm08],
         yr=[0.9635, 0.9906], t0=0.965, dt=0.005, fmt=".3f", leg=("l", 212, 264, LEG_W_TRAIN)),
    dict(names=FIXED_MIX, data=[r3c3_de, r3c3_rm04, r3c3_seg02, r3c3_perm],
         yr=[0.9540, 0.9894], t0=0.955, dt=0.005, fmt=".3f", leg=("r", 475, 270, LEG_W_FIXED)),
    dict(names=TRAIN_MIX, data=[r3c4_de, r3c4_rm04, r3c4_seg02, r3c4_perm],
         yr=[0.9625, 0.9920], t0=0.965, dt=0.005, fmt=".3f", leg=("r", 637, 270, LEG_W_TRAIN)),
]

TICK_FONT = "Liberation Sans, Arial, sans-serif"
LABEL_FONT = "Liberation Sans, Arial, sans-serif"
LEG_FONT = "Liberation Sans, Arial, sans-serif"
TXT = "#333333"


def px(x):
    return x / W


def py(y):
    return 1 - y / H


fig = go.Figure()
shapes = []
annotations = []
layout = {}

for i, p in enumerate(PANELS):
    r, c = divmod(i, 4)
    k = "" if i == 0 else str(i + 1)
    x0, x1 = COLS[c]
    y0, y1 = ROWS[r]
    for j, (name, vals) in enumerate(zip(p["names"], p["data"])):
        fig.add_trace(go.Scatter(x=STEPS[:len(vals)], y=vals, mode="lines", name=name,
                                 line=dict(color=COLORS[j], width=1),
                                 xaxis="x" + k, yaxis="y" + k, showlegend=False))
    axis_common = dict(showline=True, mirror=True, linecolor="#555555", linewidth=0.8,
                       showgrid=False, zeroline=False, ticks="outside", ticklen=2,
                       tickwidth=0.6, tickcolor="#555555",
                       tickfont=dict(size=6, color=TXT, family=TICK_FONT))
    layout["xaxis" + k] = dict(axis_common, domain=[px(x0), px(x1)], anchor="y" + k,
                               range=[-4.9, 102.9], tickvals=X_TICKS)
    layout["yaxis" + k] = dict(axis_common, domain=[py(y1), py(y0)], anchor="x" + k,
                               range=p["yr"], tick0=p["t0"], dtick=p["dt"], tickformat=p["fmt"])
    # axis titles
    annotations.append(dict(text="x100 training steps", x=px((x0 + x1) / 2), y=py(XTITLE_Y[r]),
                            xref="paper", yref="paper", showarrow=False, xanchor="center",
                            yanchor="middle", font=dict(size=6, color=TXT, family=LABEL_FONT)))
    annotations.append(dict(text="Validation accuracy", x=px(YTITLE_X[c]), y=py((y0 + y1) / 2),
                            xref="paper", yref="paper", showarrow=False, textangle=-90,
                            xanchor="center", yanchor="middle",
                            font=dict(size=6, color=TXT, family=LABEL_FONT)))
    # legend box (matplotlib-like, compact)
    side, ax, ly, lw = p["leg"]
    lx = ax - lw if side == "r" else ax
    n = len(p["names"])
    rowh = 6.4
    lh = n * rowh + 3
    shapes.append(dict(type="rect", xref="paper", yref="paper", x0=px(lx), x1=px(lx + lw),
                       y0=py(ly + lh), y1=py(ly), fillcolor="rgba(255,255,255,0.85)",
                       line=dict(color="#d4d4d4", width=0.6), layer="above"))
    for j, name in enumerate(p["names"]):
        cy = ly + 1.5 + rowh * (j + 0.5)
        shapes.append(dict(type="line", xref="paper", yref="paper", x0=px(lx + 2.5),
                           x1=px(lx + 10), y0=py(cy), y1=py(cy),
                           line=dict(color=COLORS[j], width=1), layer="above"))
        annotations.append(dict(text='<span style="letter-spacing:-0.4px">' + name + '</span>',
                                x=px(lx + 11.5), y=py(cy), xref="paper", yref="paper",
                                showarrow=False, xanchor="left", yanchor="middle",
                                font=dict(size=6, color=TXT, family=LEG_FONT)))

fig.update_layout(width=W, height=H, margin=dict(l=0, r=0, t=0, b=0),
                  paper_bgcolor="white", plot_bgcolor="white", showlegend=False,
                  font=dict(family=TICK_FONT), shapes=shapes, annotations=annotations, **layout)

fig.write_html("out.html", config={"displayModeBar": False},
               post_script="document.body.style.margin='0';document.body.style.padding='0';")
